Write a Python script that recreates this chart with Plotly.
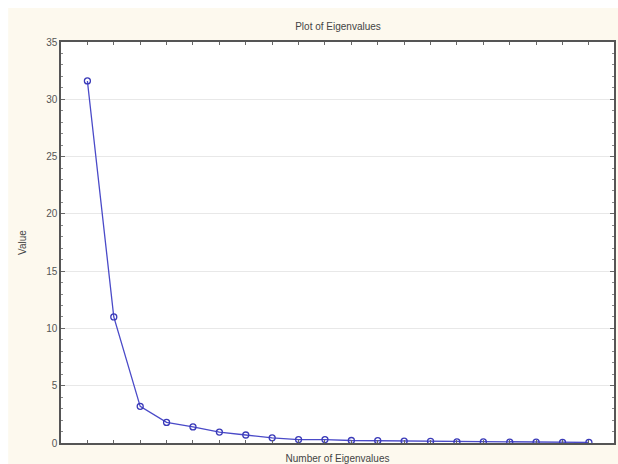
import plotly.graph_objects as go

# Scree data: eigenvalue number and its value
eigen_numbers = list(range(1, 21))
eigen_values = [31.6, 11.0, 3.2, 1.8, 1.4, 0.95, 0.7, 0.45, 0.3, 0.3,
                0.22, 0.2, 0.17, 0.15, 0.1, 0.09, 0.08, 0.07, 0.06, 0.05]
y_ticks = [0, 5, 10, 15, 20, 25, 30, 35]

W, H = 618, 464
ML, MR, MT, MB = 61, 2, 42, 21
pw, ph = W - ML - MR, H - MT - MB
FONT = "Liberation Sans, Arial, sans-serif"

fig = go.Figure()
fig.add_trace(go.Scatter(
    x=eigen_numbers, y=eigen_values, mode="lines+markers",
    line=dict(color="#4a4ac8", width=1.3),
    marker=dict(symbol="circle-open", size=6, color="#3a3ab8", line=dict(width=1.3)),
    cliponaxis=True, showlegend=False,
))

# cream panel behind the chart, leaving a thin white strip top and left
fig.add_shape(type="rect", xref="paper", yref="paper", layer="below",
              x0=(8 - ML) / pw, x1=(W + 2 - ML) / pw,
              y0=-(MB + 2) / ph, y1=(H - MB - 8) / ph,
              fillcolor="#fdf9ee", line=dict(width=0))
fig.add_shape(type="rect", xref="paper", yref="paper", layer="below",
              x0=0, x1=1, y0=0, y1=1, fillcolor="white", line=dict(width=0))

fig.update_layout(
    width=W, height=H,
    margin=dict(l=ML, r=MR, t=MT, b=MB),
    paper_bgcolor="white", plot_bgcolor="rgba(0,0,0,0)",
    title=dict(text="Plot of Eigenvalues", x=(339 - ML) / pw, xref="paper", xanchor="center",
               y=1 - 26 / H, yanchor="middle",
               font=dict(family=FONT, size=10, color="#444444")),
    font=dict(family=FONT, size=10, color="#555555"),
)
fig.update_xaxes(
    range=[0, 20.95], showgrid=False, zeroline=False,
    tickmode="array", tickvals=eigen_numbers, showticklabels=False,
    ticks="inside", ticklen=3, tickcolor="#666666",
    showline=True, linecolor="#555555", linewidth=1.5, mirror="ticks",
    title=dict(text="Number of Eigenvalues", standoff=12,
               font=dict(family=FONT, size=10, color="#444444")),
)
fig.update_yaxes(
    range=[0, 35], zeroline=False,
    tickmode="array", tickvals=y_ticks,
    showgrid=True, gridcolor="#e8e8e8", gridwidth=1,
    ticks="inside", ticklen=4, tickcolor="#666666",
    minor=dict(dtick=1, ticks="inside", ticklen=2, tickcolor="#888888", showgrid=False),
    showline=True, linecolor="#555555", linewidth=1.5, mirror="ticks",
    title=dict(text="Value", standoff=18,
               font=dict(family=FONT, size=10, color="#444444")),
)

fig.write_html("out.html")
